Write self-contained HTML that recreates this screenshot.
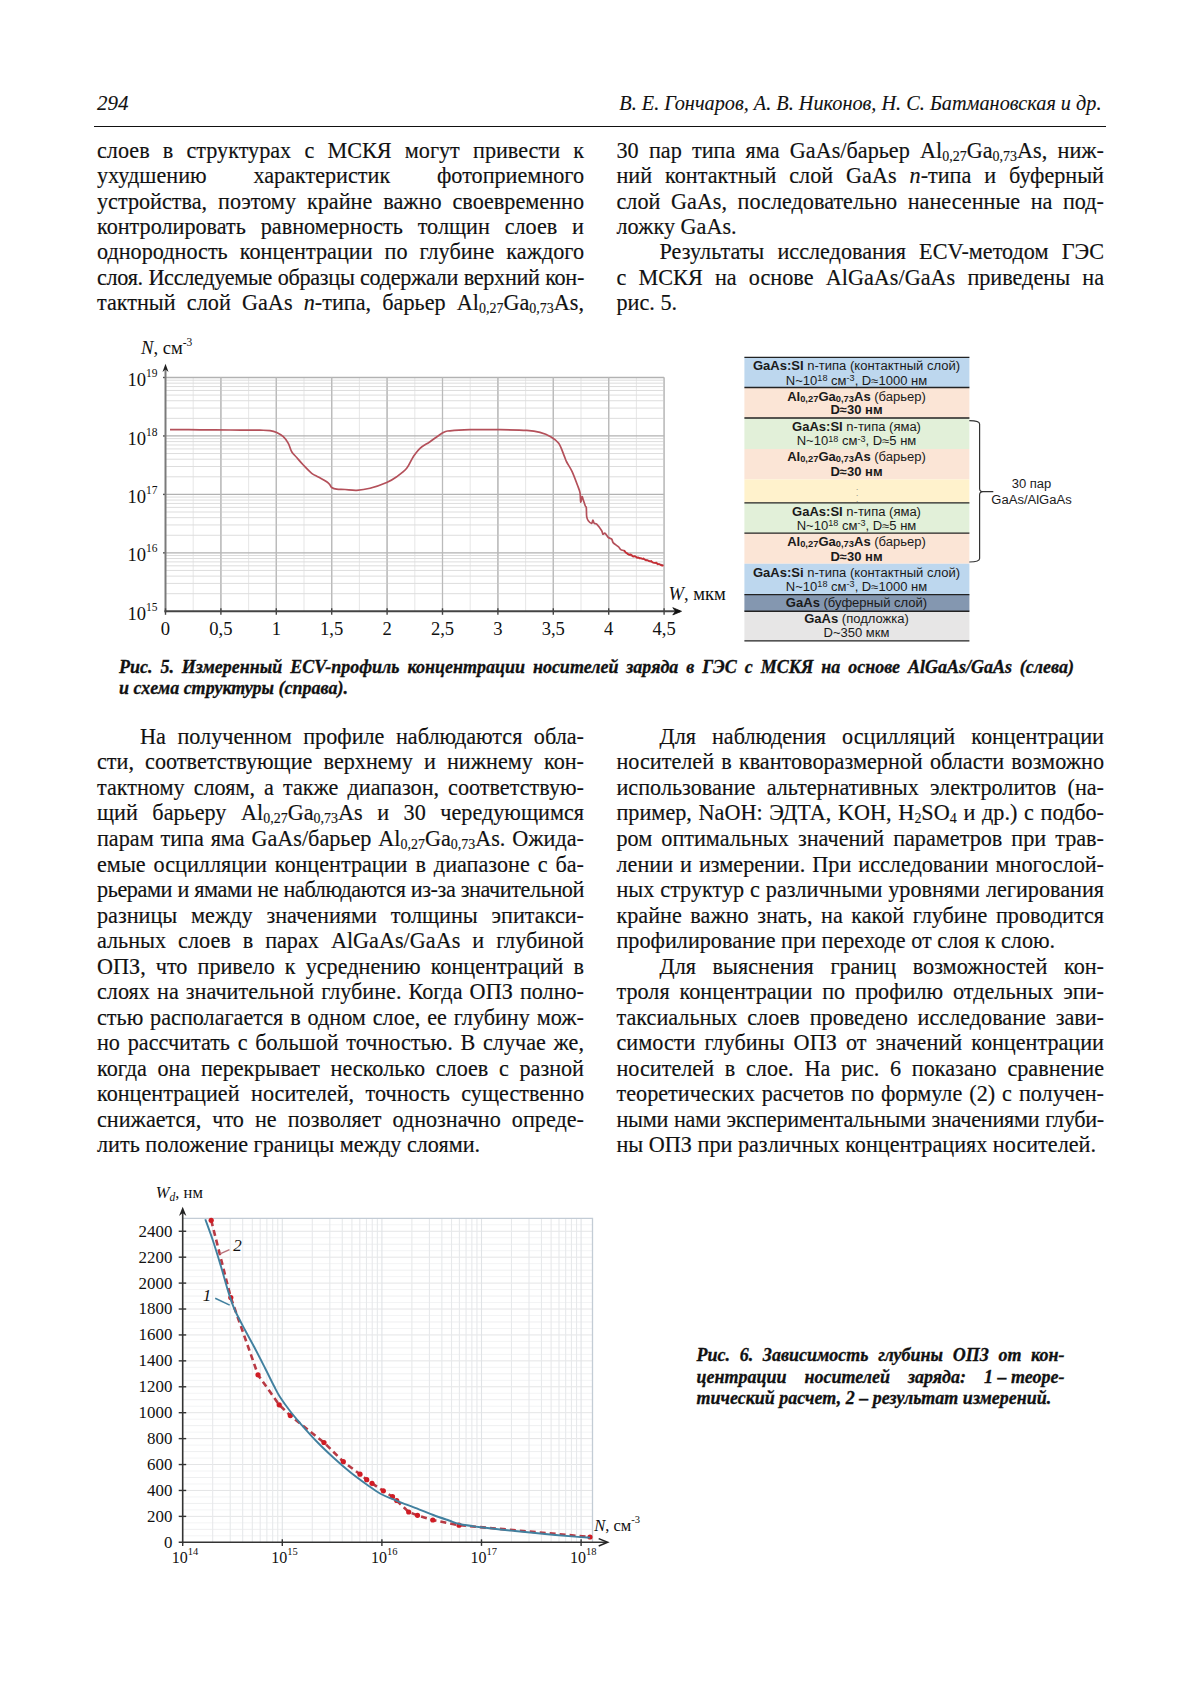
<!DOCTYPE html>
<html><head><meta charset="utf-8"><style>
*{margin:0;padding:0;box-sizing:border-box}
html,body{width:1200px;height:1697px;background:#fff;overflow:hidden}
body{position:relative;font-family:"Liberation Serif",serif;color:#111}
.tx{position:absolute;-webkit-text-stroke:0.15px #111;font-size:22.2px;line-height:25.45px;white-space:nowrap}
.tx>div,.cap>div{text-align:left;height:25.45px;overflow:visible}
.cap>div{height:auto}
.j{text-align:justify!important;text-align-last:justify}
.ind{padding-left:43px}
.sb{font-size:0.63em;position:relative;top:3px;line-height:0}
.cap{position:absolute;-webkit-text-stroke:0.3px #111;font-weight:bold;font-style:italic;white-space:nowrap}
.hd{position:absolute;-webkit-text-stroke:0.1px #111;font-style:italic;font-size:20.25px;line-height:1.15;white-space:nowrap}
.ov{position:absolute;left:0;top:0}
.c5{font-family:"Liberation Serif",serif;font-size:18.6px;fill:#111}
.sup5{font-size:11.5px}
.c6{font-family:"Liberation Serif",serif;font-size:16.5px;fill:#111}
.sup6{font-size:10.5px}
.sub6{font-size:11.5px}
.dl{position:absolute;left:744.4px;width:225px;text-align:center;font-family:"Liberation Sans",sans-serif;font-size:12px;line-height:12px;white-space:nowrap;color:#1a1a1a;transform:scaleX(1.085)}
.dl2{position:absolute;text-align:center;font-family:"Liberation Sans",sans-serif;font-size:12px;line-height:12px;white-space:nowrap;color:#1a1a1a;transform:scaleX(1.085)}
.sp{font-size:0.7em;position:relative;top:-0.45em;line-height:0}
.ds{font-size:0.72em;position:relative;top:0.15em;line-height:0}
</style></head>
<body>
<svg class="ov" width="1200" height="1697" viewBox="0 0 1200 1697"><line x1="193.20" y1="377.50" x2="193.20" y2="611.30" stroke="#e8e8e8" stroke-width="1.1"/>
<line x1="220.90" y1="377.50" x2="220.90" y2="611.30" stroke="#bcbcbc" stroke-width="1.1"/>
<line x1="248.60" y1="377.50" x2="248.60" y2="611.30" stroke="#e8e8e8" stroke-width="1.1"/>
<line x1="276.30" y1="377.50" x2="276.30" y2="611.30" stroke="#bcbcbc" stroke-width="1.1"/>
<line x1="304.00" y1="377.50" x2="304.00" y2="611.30" stroke="#e8e8e8" stroke-width="1.1"/>
<line x1="331.70" y1="377.50" x2="331.70" y2="611.30" stroke="#bcbcbc" stroke-width="1.1"/>
<line x1="359.40" y1="377.50" x2="359.40" y2="611.30" stroke="#e8e8e8" stroke-width="1.1"/>
<line x1="387.10" y1="377.50" x2="387.10" y2="611.30" stroke="#bcbcbc" stroke-width="1.1"/>
<line x1="414.80" y1="377.50" x2="414.80" y2="611.30" stroke="#e8e8e8" stroke-width="1.1"/>
<line x1="442.50" y1="377.50" x2="442.50" y2="611.30" stroke="#bcbcbc" stroke-width="1.1"/>
<line x1="470.20" y1="377.50" x2="470.20" y2="611.30" stroke="#e8e8e8" stroke-width="1.1"/>
<line x1="497.90" y1="377.50" x2="497.90" y2="611.30" stroke="#bcbcbc" stroke-width="1.1"/>
<line x1="525.60" y1="377.50" x2="525.60" y2="611.30" stroke="#e8e8e8" stroke-width="1.1"/>
<line x1="553.30" y1="377.50" x2="553.30" y2="611.30" stroke="#bcbcbc" stroke-width="1.1"/>
<line x1="581.00" y1="377.50" x2="581.00" y2="611.30" stroke="#e8e8e8" stroke-width="1.1"/>
<line x1="608.70" y1="377.50" x2="608.70" y2="611.30" stroke="#bcbcbc" stroke-width="1.1"/>
<line x1="636.40" y1="377.50" x2="636.40" y2="611.30" stroke="#e8e8e8" stroke-width="1.1"/>
<line x1="664.10" y1="377.50" x2="664.10" y2="611.30" stroke="#bcbcbc" stroke-width="1.1"/>
<line x1="165.50" y1="593.70" x2="664.10" y2="593.70" stroke="#dddddd" stroke-width="1"/>
<line x1="165.50" y1="583.41" x2="664.10" y2="583.41" stroke="#dddddd" stroke-width="1"/>
<line x1="165.50" y1="576.11" x2="664.10" y2="576.11" stroke="#dddddd" stroke-width="1"/>
<line x1="165.50" y1="570.45" x2="664.10" y2="570.45" stroke="#dddddd" stroke-width="1"/>
<line x1="165.50" y1="565.82" x2="664.10" y2="565.82" stroke="#dddddd" stroke-width="1"/>
<line x1="165.50" y1="561.90" x2="664.10" y2="561.90" stroke="#dddddd" stroke-width="1"/>
<line x1="165.50" y1="558.51" x2="664.10" y2="558.51" stroke="#dddddd" stroke-width="1"/>
<line x1="165.50" y1="555.52" x2="664.10" y2="555.52" stroke="#dddddd" stroke-width="1"/>
<line x1="165.50" y1="535.25" x2="664.10" y2="535.25" stroke="#dddddd" stroke-width="1"/>
<line x1="165.50" y1="524.96" x2="664.10" y2="524.96" stroke="#dddddd" stroke-width="1"/>
<line x1="165.50" y1="517.66" x2="664.10" y2="517.66" stroke="#dddddd" stroke-width="1"/>
<line x1="165.50" y1="512.00" x2="664.10" y2="512.00" stroke="#dddddd" stroke-width="1"/>
<line x1="165.50" y1="507.37" x2="664.10" y2="507.37" stroke="#dddddd" stroke-width="1"/>
<line x1="165.50" y1="503.45" x2="664.10" y2="503.45" stroke="#dddddd" stroke-width="1"/>
<line x1="165.50" y1="500.06" x2="664.10" y2="500.06" stroke="#dddddd" stroke-width="1"/>
<line x1="165.50" y1="497.07" x2="664.10" y2="497.07" stroke="#dddddd" stroke-width="1"/>
<line x1="165.50" y1="476.80" x2="664.10" y2="476.80" stroke="#dddddd" stroke-width="1"/>
<line x1="165.50" y1="466.51" x2="664.10" y2="466.51" stroke="#dddddd" stroke-width="1"/>
<line x1="165.50" y1="459.21" x2="664.10" y2="459.21" stroke="#dddddd" stroke-width="1"/>
<line x1="165.50" y1="453.55" x2="664.10" y2="453.55" stroke="#dddddd" stroke-width="1"/>
<line x1="165.50" y1="448.92" x2="664.10" y2="448.92" stroke="#dddddd" stroke-width="1"/>
<line x1="165.50" y1="445.00" x2="664.10" y2="445.00" stroke="#dddddd" stroke-width="1"/>
<line x1="165.50" y1="441.61" x2="664.10" y2="441.61" stroke="#dddddd" stroke-width="1"/>
<line x1="165.50" y1="438.62" x2="664.10" y2="438.62" stroke="#dddddd" stroke-width="1"/>
<line x1="165.50" y1="418.35" x2="664.10" y2="418.35" stroke="#dddddd" stroke-width="1"/>
<line x1="165.50" y1="408.06" x2="664.10" y2="408.06" stroke="#dddddd" stroke-width="1"/>
<line x1="165.50" y1="400.76" x2="664.10" y2="400.76" stroke="#dddddd" stroke-width="1"/>
<line x1="165.50" y1="395.10" x2="664.10" y2="395.10" stroke="#dddddd" stroke-width="1"/>
<line x1="165.50" y1="390.47" x2="664.10" y2="390.47" stroke="#dddddd" stroke-width="1"/>
<line x1="165.50" y1="386.55" x2="664.10" y2="386.55" stroke="#dddddd" stroke-width="1"/>
<line x1="165.50" y1="383.16" x2="664.10" y2="383.16" stroke="#dddddd" stroke-width="1"/>
<line x1="165.50" y1="380.17" x2="664.10" y2="380.17" stroke="#dddddd" stroke-width="1"/>
<line x1="165.50" y1="552.85" x2="664.10" y2="552.85" stroke="#b2b2b2" stroke-width="1.3"/>
<line x1="163.00" y1="552.85" x2="165.50" y2="552.85" stroke="#555" stroke-width="1.4"/>
<line x1="165.50" y1="494.40" x2="664.10" y2="494.40" stroke="#b2b2b2" stroke-width="1.3"/>
<line x1="163.00" y1="494.40" x2="165.50" y2="494.40" stroke="#555" stroke-width="1.4"/>
<line x1="165.50" y1="435.95" x2="664.10" y2="435.95" stroke="#b2b2b2" stroke-width="1.3"/>
<line x1="163.00" y1="435.95" x2="165.50" y2="435.95" stroke="#555" stroke-width="1.4"/>
<line x1="165.50" y1="377.50" x2="664.10" y2="377.50" stroke="#b2b2b2" stroke-width="1.3"/>
<line x1="163.00" y1="377.50" x2="165.50" y2="377.50" stroke="#555" stroke-width="1.4"/>
<line x1="220.90" y1="377.50" x2="220.90" y2="611.30" stroke="#bababa" stroke-width="1.2"/>
<line x1="276.30" y1="377.50" x2="276.30" y2="611.30" stroke="#bababa" stroke-width="1.2"/>
<line x1="331.70" y1="377.50" x2="331.70" y2="611.30" stroke="#bababa" stroke-width="1.2"/>
<line x1="387.10" y1="377.50" x2="387.10" y2="611.30" stroke="#bababa" stroke-width="1.2"/>
<line x1="442.50" y1="377.50" x2="442.50" y2="611.30" stroke="#bababa" stroke-width="1.2"/>
<line x1="497.90" y1="377.50" x2="497.90" y2="611.30" stroke="#bababa" stroke-width="1.2"/>
<line x1="553.30" y1="377.50" x2="553.30" y2="611.30" stroke="#bababa" stroke-width="1.2"/>
<line x1="608.70" y1="377.50" x2="608.70" y2="611.30" stroke="#bababa" stroke-width="1.2"/>
<line x1="664.10" y1="377.50" x2="664.10" y2="611.30" stroke="#bababa" stroke-width="1.2"/>
<line x1="165.50" y1="612.30" x2="165.50" y2="368" stroke="#7a7a7a" stroke-width="2"/>
<path d="M162.50,372 L165.50,363.8 L168.50,372 L165.50,369.5 Z" fill="#222"/>
<line x1="164.50" y1="611.30" x2="680" y2="611.30" stroke="#444" stroke-width="2"/>
<path d="M672.8,607.70 L681.5,611.30 L672.8,614.90 L675.5,611.30 Z" fill="#111" stroke="#111" stroke-width="0.8" stroke-linejoin="round"/>
<line x1="165.50" y1="608.30" x2="165.50" y2="614.80" stroke="#444" stroke-width="1.4"/>
<line x1="220.90" y1="608.30" x2="220.90" y2="614.80" stroke="#444" stroke-width="1.4"/>
<line x1="276.30" y1="608.30" x2="276.30" y2="614.80" stroke="#444" stroke-width="1.4"/>
<line x1="331.70" y1="608.30" x2="331.70" y2="614.80" stroke="#444" stroke-width="1.4"/>
<line x1="387.10" y1="608.30" x2="387.10" y2="614.80" stroke="#444" stroke-width="1.4"/>
<line x1="442.50" y1="608.30" x2="442.50" y2="614.80" stroke="#444" stroke-width="1.4"/>
<line x1="497.90" y1="608.30" x2="497.90" y2="614.80" stroke="#444" stroke-width="1.4"/>
<line x1="553.30" y1="608.30" x2="553.30" y2="614.80" stroke="#444" stroke-width="1.4"/>
<line x1="608.70" y1="608.30" x2="608.70" y2="614.80" stroke="#444" stroke-width="1.4"/>
<line x1="664.10" y1="608.30" x2="664.10" y2="614.80" stroke="#444" stroke-width="1.4"/>
<text x="165.50" y="635.3" class="c5" text-anchor="middle">0</text>
<text x="220.90" y="635.3" class="c5" text-anchor="middle">0,5</text>
<text x="276.30" y="635.3" class="c5" text-anchor="middle">1</text>
<text x="331.70" y="635.3" class="c5" text-anchor="middle">1,5</text>
<text x="387.10" y="635.3" class="c5" text-anchor="middle">2</text>
<text x="442.50" y="635.3" class="c5" text-anchor="middle">2,5</text>
<text x="497.90" y="635.3" class="c5" text-anchor="middle">3</text>
<text x="553.30" y="635.3" class="c5" text-anchor="middle">3,5</text>
<text x="608.70" y="635.3" class="c5" text-anchor="middle">4</text>
<text x="664.10" y="635.3" class="c5" text-anchor="middle">4,5</text>
<text x="157.5" y="619.90" class="c5" text-anchor="end">10<tspan class="sup5" dy="-9">15</tspan></text>
<text x="157.5" y="561.45" class="c5" text-anchor="end">10<tspan class="sup5" dy="-9">16</tspan></text>
<text x="157.5" y="503.00" class="c5" text-anchor="end">10<tspan class="sup5" dy="-9">17</tspan></text>
<text x="157.5" y="444.55" class="c5" text-anchor="end">10<tspan class="sup5" dy="-9">18</tspan></text>
<text x="157.5" y="386.10" class="c5" text-anchor="end">10<tspan class="sup5" dy="-9">19</tspan></text>
<text x="141" y="353.8" class="c5"><tspan font-style="italic">N</tspan>, см<tspan class="sup5" dy="-8">-3</tspan></text>
<text x="668.5" y="600" class="c5"><tspan font-style="italic">W</tspan>, мкм</text>
<path d="M170.00,429.60 C175.00,429.63 190.00,429.73 200.00,429.80 C210.00,429.87 220.00,429.93 230.00,430.00 C240.00,430.07 253.33,430.10 260.00,430.20 C266.67,430.30 267.22,430.22 270.00,430.60 C272.78,430.98 274.48,431.48 276.70,432.50 C278.92,433.52 281.37,434.90 283.30,436.70 C285.23,438.50 286.90,440.80 288.30,443.30 C289.70,445.80 290.30,449.33 291.70,451.70 C293.10,454.07 294.77,455.28 296.70,457.50 C298.63,459.72 300.80,462.37 303.30,465.00 C305.80,467.63 309.20,471.30 311.70,473.30 C314.20,475.30 315.80,475.60 318.30,477.00 C320.80,478.40 324.75,480.37 326.70,481.70 C328.65,483.03 329.17,484.03 330.00,485.00 C330.83,485.97 330.58,486.80 331.70,487.50 C332.82,488.20 334.48,488.87 336.70,489.20 C338.92,489.53 341.67,489.32 345.00,489.50 C348.33,489.68 352.53,490.50 356.70,490.30 C360.87,490.10 365.00,489.60 370.00,488.30 C375.00,487.00 382.25,484.43 386.70,482.50 C391.15,480.57 393.37,479.07 396.70,476.70 C400.03,474.33 403.93,471.63 406.70,468.30 C409.47,464.97 411.08,460.03 413.30,456.70 C415.52,453.37 417.22,450.80 420.00,448.30 C422.78,445.80 426.12,444.33 430.00,441.70 C433.88,439.07 439.97,434.32 443.30,432.50 C446.63,430.68 445.55,431.27 450.00,430.80 C454.45,430.33 461.67,429.88 470.00,429.70 C478.33,429.52 490.55,429.58 500.00,429.70 C509.45,429.82 520.03,429.95 526.70,430.40 C533.37,430.85 536.00,431.35 540.00,432.40 C544.00,433.45 547.58,434.88 550.70,436.70 C553.82,438.52 556.48,440.20 558.70,443.30 C560.92,446.40 562.67,452.18 564.00,455.30 C565.33,458.42 565.37,459.33 566.70,462.00 C568.03,464.67 570.23,467.52 572.00,471.30 C573.77,475.08 575.97,481.13 577.30,484.70 C578.63,488.27 579.43,489.82 580.00,492.70 C580.57,495.58 580.37,501.33 580.70,502.00 C581.03,502.67 581.57,497.03 582.00,496.70 C582.43,496.37 582.75,498.45 583.30,500.00 C583.85,501.55 584.80,504.75 585.30,506.00 C585.80,507.25 586.07,505.72 586.30,507.50 C586.53,509.28 586.37,514.48 586.70,516.70 C587.03,518.92 587.47,519.70 588.30,520.80 C589.13,521.90 590.93,523.43 591.70,523.30 C592.47,523.17 592.48,520.00 592.90,520.00 C593.32,520.00 593.57,522.60 594.20,523.30 C594.83,524.00 595.45,522.95 596.70,524.20 C597.95,525.45 600.67,529.13 601.70,530.80 C602.73,532.47 602.35,533.78 602.90,534.20 C603.45,534.62 604.10,532.75 605.00,533.30 C605.90,533.85 607.18,536.52 608.30,537.50 C609.42,538.48 610.87,538.30 611.70,539.20 C612.53,540.10 612.20,541.65 613.30,542.90 C614.40,544.15 617.05,545.58 618.30,546.70 C619.55,547.82 619.82,548.92 620.80,549.60 C621.78,550.28 623.22,550.18 624.20,550.80 C625.18,551.42 625.45,552.47 626.70,553.30 C627.95,554.13 629.77,555.10 631.70,555.80 C633.63,556.50 635.80,556.80 638.30,557.50 C640.80,558.20 643.92,559.08 646.70,560.00 C649.48,560.92 652.23,562.10 655.00,563.00 C657.77,563.90 661.92,565.00 663.30,565.40" fill="none" stroke="#b4505a" stroke-width="1.7" stroke-linejoin="round"/>
<path d="M624.0,550.2 L625.3,552.0 L626.6,552.9 L627.9,554.1 L629.2,554.8 L630.5,554.3 L631.8,554.9 L633.1,556.8 L634.4,556.0 L635.7,556.3 L637.0,558.2 L638.3,557.4 L639.6,558.6 L640.9,558.2 L642.2,558.9 L643.5,558.3 L644.8,559.7 L646.1,560.6 L647.4,560.3 L648.7,561.2 L650.0,561.5 L651.3,560.8 L652.6,562.6 L653.9,562.8 L655.2,562.7 L656.5,562.5 L657.8,564.5 L659.1,564.1 L660.4,565.0 L661.7,565.7 L663.0,565.7 L663.5,565.4" fill="none" stroke="#c8282e" stroke-width="1.5" stroke-linejoin="round" opacity="0.9"/>
<line x1="182.70" y1="1535.82" x2="592.5" y2="1535.82" stroke="#f3f4f5" stroke-width="1"/>
<line x1="182.70" y1="1529.34" x2="592.5" y2="1529.34" stroke="#eeeff0" stroke-width="1"/>
<line x1="182.70" y1="1522.86" x2="592.5" y2="1522.86" stroke="#f3f4f5" stroke-width="1"/>
<line x1="182.70" y1="1516.38" x2="592.5" y2="1516.38" stroke="#e4e5e6" stroke-width="1"/>
<line x1="182.70" y1="1509.90" x2="592.5" y2="1509.90" stroke="#f3f4f5" stroke-width="1"/>
<line x1="182.70" y1="1503.42" x2="592.5" y2="1503.42" stroke="#eeeff0" stroke-width="1"/>
<line x1="182.70" y1="1496.94" x2="592.5" y2="1496.94" stroke="#f3f4f5" stroke-width="1"/>
<line x1="182.70" y1="1490.46" x2="592.5" y2="1490.46" stroke="#e4e5e6" stroke-width="1"/>
<line x1="182.70" y1="1483.98" x2="592.5" y2="1483.98" stroke="#f3f4f5" stroke-width="1"/>
<line x1="182.70" y1="1477.50" x2="592.5" y2="1477.50" stroke="#eeeff0" stroke-width="1"/>
<line x1="182.70" y1="1471.02" x2="592.5" y2="1471.02" stroke="#f3f4f5" stroke-width="1"/>
<line x1="182.70" y1="1464.54" x2="592.5" y2="1464.54" stroke="#e4e5e6" stroke-width="1"/>
<line x1="182.70" y1="1458.06" x2="592.5" y2="1458.06" stroke="#f3f4f5" stroke-width="1"/>
<line x1="182.70" y1="1451.58" x2="592.5" y2="1451.58" stroke="#eeeff0" stroke-width="1"/>
<line x1="182.70" y1="1445.10" x2="592.5" y2="1445.10" stroke="#f3f4f5" stroke-width="1"/>
<line x1="182.70" y1="1438.62" x2="592.5" y2="1438.62" stroke="#e4e5e6" stroke-width="1"/>
<line x1="182.70" y1="1432.14" x2="592.5" y2="1432.14" stroke="#f3f4f5" stroke-width="1"/>
<line x1="182.70" y1="1425.66" x2="592.5" y2="1425.66" stroke="#eeeff0" stroke-width="1"/>
<line x1="182.70" y1="1419.18" x2="592.5" y2="1419.18" stroke="#f3f4f5" stroke-width="1"/>
<line x1="182.70" y1="1412.70" x2="592.5" y2="1412.70" stroke="#e4e5e6" stroke-width="1"/>
<line x1="182.70" y1="1406.22" x2="592.5" y2="1406.22" stroke="#f3f4f5" stroke-width="1"/>
<line x1="182.70" y1="1399.74" x2="592.5" y2="1399.74" stroke="#eeeff0" stroke-width="1"/>
<line x1="182.70" y1="1393.26" x2="592.5" y2="1393.26" stroke="#f3f4f5" stroke-width="1"/>
<line x1="182.70" y1="1386.78" x2="592.5" y2="1386.78" stroke="#e4e5e6" stroke-width="1"/>
<line x1="182.70" y1="1380.30" x2="592.5" y2="1380.30" stroke="#f3f4f5" stroke-width="1"/>
<line x1="182.70" y1="1373.82" x2="592.5" y2="1373.82" stroke="#eeeff0" stroke-width="1"/>
<line x1="182.70" y1="1367.34" x2="592.5" y2="1367.34" stroke="#f3f4f5" stroke-width="1"/>
<line x1="182.70" y1="1360.86" x2="592.5" y2="1360.86" stroke="#e4e5e6" stroke-width="1"/>
<line x1="182.70" y1="1354.38" x2="592.5" y2="1354.38" stroke="#f3f4f5" stroke-width="1"/>
<line x1="182.70" y1="1347.90" x2="592.5" y2="1347.90" stroke="#eeeff0" stroke-width="1"/>
<line x1="182.70" y1="1341.42" x2="592.5" y2="1341.42" stroke="#f3f4f5" stroke-width="1"/>
<line x1="182.70" y1="1334.94" x2="592.5" y2="1334.94" stroke="#e4e5e6" stroke-width="1"/>
<line x1="182.70" y1="1328.46" x2="592.5" y2="1328.46" stroke="#f3f4f5" stroke-width="1"/>
<line x1="182.70" y1="1321.98" x2="592.5" y2="1321.98" stroke="#eeeff0" stroke-width="1"/>
<line x1="182.70" y1="1315.50" x2="592.5" y2="1315.50" stroke="#f3f4f5" stroke-width="1"/>
<line x1="182.70" y1="1309.02" x2="592.5" y2="1309.02" stroke="#e4e5e6" stroke-width="1"/>
<line x1="182.70" y1="1302.54" x2="592.5" y2="1302.54" stroke="#f3f4f5" stroke-width="1"/>
<line x1="182.70" y1="1296.06" x2="592.5" y2="1296.06" stroke="#eeeff0" stroke-width="1"/>
<line x1="182.70" y1="1289.58" x2="592.5" y2="1289.58" stroke="#f3f4f5" stroke-width="1"/>
<line x1="182.70" y1="1283.10" x2="592.5" y2="1283.10" stroke="#e4e5e6" stroke-width="1"/>
<line x1="182.70" y1="1276.62" x2="592.5" y2="1276.62" stroke="#f3f4f5" stroke-width="1"/>
<line x1="182.70" y1="1270.14" x2="592.5" y2="1270.14" stroke="#eeeff0" stroke-width="1"/>
<line x1="182.70" y1="1263.66" x2="592.5" y2="1263.66" stroke="#f3f4f5" stroke-width="1"/>
<line x1="182.70" y1="1257.18" x2="592.5" y2="1257.18" stroke="#e4e5e6" stroke-width="1"/>
<line x1="182.70" y1="1250.70" x2="592.5" y2="1250.70" stroke="#f3f4f5" stroke-width="1"/>
<line x1="182.70" y1="1244.22" x2="592.5" y2="1244.22" stroke="#eeeff0" stroke-width="1"/>
<line x1="182.70" y1="1237.74" x2="592.5" y2="1237.74" stroke="#f3f4f5" stroke-width="1"/>
<line x1="182.70" y1="1231.26" x2="592.5" y2="1231.26" stroke="#e4e5e6" stroke-width="1"/>
<line x1="182.70" y1="1224.78" x2="592.5" y2="1224.78" stroke="#f3f4f5" stroke-width="1"/>
<line x1="212.68" y1="1218.30" x2="212.68" y2="1542.30" stroke="#e7e9eb" stroke-width="1.1"/>
<line x1="230.22" y1="1218.30" x2="230.22" y2="1542.30" stroke="#e7e9eb" stroke-width="1.1"/>
<line x1="242.67" y1="1218.30" x2="242.67" y2="1542.30" stroke="#e7e9eb" stroke-width="1.1"/>
<line x1="252.32" y1="1218.30" x2="252.32" y2="1542.30" stroke="#e7e9eb" stroke-width="1.1"/>
<line x1="260.20" y1="1218.30" x2="260.20" y2="1542.30" stroke="#e7e9eb" stroke-width="1.1"/>
<line x1="266.87" y1="1218.30" x2="266.87" y2="1542.30" stroke="#e7e9eb" stroke-width="1.1"/>
<line x1="272.65" y1="1218.30" x2="272.65" y2="1542.30" stroke="#e7e9eb" stroke-width="1.1"/>
<line x1="277.74" y1="1218.30" x2="277.74" y2="1542.30" stroke="#e7e9eb" stroke-width="1.1"/>
<line x1="282.30" y1="1218.30" x2="282.30" y2="1542.30" stroke="#e0e3e6" stroke-width="1.1"/>
<line x1="312.28" y1="1218.30" x2="312.28" y2="1542.30" stroke="#e7e9eb" stroke-width="1.1"/>
<line x1="329.82" y1="1218.30" x2="329.82" y2="1542.30" stroke="#e7e9eb" stroke-width="1.1"/>
<line x1="342.27" y1="1218.30" x2="342.27" y2="1542.30" stroke="#e7e9eb" stroke-width="1.1"/>
<line x1="351.92" y1="1218.30" x2="351.92" y2="1542.30" stroke="#e7e9eb" stroke-width="1.1"/>
<line x1="359.80" y1="1218.30" x2="359.80" y2="1542.30" stroke="#e7e9eb" stroke-width="1.1"/>
<line x1="366.47" y1="1218.30" x2="366.47" y2="1542.30" stroke="#e7e9eb" stroke-width="1.1"/>
<line x1="372.25" y1="1218.30" x2="372.25" y2="1542.30" stroke="#e7e9eb" stroke-width="1.1"/>
<line x1="377.34" y1="1218.30" x2="377.34" y2="1542.30" stroke="#e7e9eb" stroke-width="1.1"/>
<line x1="381.90" y1="1218.30" x2="381.90" y2="1542.30" stroke="#e0e3e6" stroke-width="1.1"/>
<line x1="411.88" y1="1218.30" x2="411.88" y2="1542.30" stroke="#e7e9eb" stroke-width="1.1"/>
<line x1="429.42" y1="1218.30" x2="429.42" y2="1542.30" stroke="#e7e9eb" stroke-width="1.1"/>
<line x1="441.87" y1="1218.30" x2="441.87" y2="1542.30" stroke="#e7e9eb" stroke-width="1.1"/>
<line x1="451.52" y1="1218.30" x2="451.52" y2="1542.30" stroke="#e7e9eb" stroke-width="1.1"/>
<line x1="459.40" y1="1218.30" x2="459.40" y2="1542.30" stroke="#e7e9eb" stroke-width="1.1"/>
<line x1="466.07" y1="1218.30" x2="466.07" y2="1542.30" stroke="#e7e9eb" stroke-width="1.1"/>
<line x1="471.85" y1="1218.30" x2="471.85" y2="1542.30" stroke="#e7e9eb" stroke-width="1.1"/>
<line x1="476.94" y1="1218.30" x2="476.94" y2="1542.30" stroke="#e7e9eb" stroke-width="1.1"/>
<line x1="481.50" y1="1218.30" x2="481.50" y2="1542.30" stroke="#e0e3e6" stroke-width="1.1"/>
<line x1="511.48" y1="1218.30" x2="511.48" y2="1542.30" stroke="#e7e9eb" stroke-width="1.1"/>
<line x1="529.02" y1="1218.30" x2="529.02" y2="1542.30" stroke="#e7e9eb" stroke-width="1.1"/>
<line x1="541.47" y1="1218.30" x2="541.47" y2="1542.30" stroke="#e7e9eb" stroke-width="1.1"/>
<line x1="551.12" y1="1218.30" x2="551.12" y2="1542.30" stroke="#e7e9eb" stroke-width="1.1"/>
<line x1="559.00" y1="1218.30" x2="559.00" y2="1542.30" stroke="#e7e9eb" stroke-width="1.1"/>
<line x1="565.67" y1="1218.30" x2="565.67" y2="1542.30" stroke="#e7e9eb" stroke-width="1.1"/>
<line x1="571.45" y1="1218.30" x2="571.45" y2="1542.30" stroke="#e7e9eb" stroke-width="1.1"/>
<line x1="576.54" y1="1218.30" x2="576.54" y2="1542.30" stroke="#e7e9eb" stroke-width="1.1"/>
<line x1="581.10" y1="1218.30" x2="581.10" y2="1542.30" stroke="#e0e3e6" stroke-width="1.1"/>
<path d="M182.70,1218.30 L592.5,1218.30 L592.5,1542.30" fill="none" stroke="#c3ccd5" stroke-width="1.3"/>
<line x1="182.70" y1="1543.30" x2="182.70" y2="1212" stroke="#333" stroke-width="1.6"/>
<path d="M179.00,1216 L182.70,1206.7 L186.40,1216 L182.70,1213 Z" fill="#222"/>
<line x1="178.70" y1="1542.30" x2="606" y2="1542.30" stroke="#333" stroke-width="1.6"/>
<line x1="182.70" y1="1542.30" x2="182.70" y2="1545.90" stroke="#333" stroke-width="1.4"/>
<path d="M598.7,1538.60 L607.7,1542.30 L598.7,1546.00" fill="none" stroke="#222" stroke-width="1.5"/>
<line x1="178.70" y1="1516.38" x2="186.20" y2="1516.38" stroke="#333" stroke-width="1.4"/>
<line x1="178.70" y1="1490.46" x2="186.20" y2="1490.46" stroke="#333" stroke-width="1.4"/>
<line x1="178.70" y1="1464.54" x2="186.20" y2="1464.54" stroke="#333" stroke-width="1.4"/>
<line x1="178.70" y1="1438.62" x2="186.20" y2="1438.62" stroke="#333" stroke-width="1.4"/>
<line x1="178.70" y1="1412.70" x2="186.20" y2="1412.70" stroke="#333" stroke-width="1.4"/>
<line x1="178.70" y1="1386.78" x2="186.20" y2="1386.78" stroke="#333" stroke-width="1.4"/>
<line x1="178.70" y1="1360.86" x2="186.20" y2="1360.86" stroke="#333" stroke-width="1.4"/>
<line x1="178.70" y1="1334.94" x2="186.20" y2="1334.94" stroke="#333" stroke-width="1.4"/>
<line x1="178.70" y1="1309.02" x2="186.20" y2="1309.02" stroke="#333" stroke-width="1.4"/>
<line x1="178.70" y1="1283.10" x2="186.20" y2="1283.10" stroke="#333" stroke-width="1.4"/>
<line x1="178.70" y1="1257.18" x2="186.20" y2="1257.18" stroke="#333" stroke-width="1.4"/>
<line x1="178.70" y1="1231.26" x2="186.20" y2="1231.26" stroke="#333" stroke-width="1.4"/>
<line x1="282.30" y1="1539.30" x2="282.30" y2="1545.90" stroke="#333" stroke-width="1.4"/>
<line x1="381.90" y1="1539.30" x2="381.90" y2="1545.90" stroke="#333" stroke-width="1.4"/>
<line x1="481.50" y1="1539.30" x2="481.50" y2="1545.90" stroke="#333" stroke-width="1.4"/>
<line x1="581.10" y1="1539.30" x2="581.10" y2="1545.90" stroke="#333" stroke-width="1.4"/>
<text x="172.4" y="1547.70" class="c6" text-anchor="end" style="font-size:16.9px">0</text>
<text x="172.4" y="1521.78" class="c6" text-anchor="end" style="font-size:16.9px">200</text>
<text x="172.4" y="1495.86" class="c6" text-anchor="end" style="font-size:16.9px">400</text>
<text x="172.4" y="1469.94" class="c6" text-anchor="end" style="font-size:16.9px">600</text>
<text x="172.4" y="1444.02" class="c6" text-anchor="end" style="font-size:16.9px">800</text>
<text x="172.4" y="1418.10" class="c6" text-anchor="end" style="font-size:16.9px">1000</text>
<text x="172.4" y="1392.18" class="c6" text-anchor="end" style="font-size:16.9px">1200</text>
<text x="172.4" y="1366.26" class="c6" text-anchor="end" style="font-size:16.9px">1400</text>
<text x="172.4" y="1340.34" class="c6" text-anchor="end" style="font-size:16.9px">1600</text>
<text x="172.4" y="1314.42" class="c6" text-anchor="end" style="font-size:16.9px">1800</text>
<text x="172.4" y="1288.50" class="c6" text-anchor="end" style="font-size:16.9px">2000</text>
<text x="172.4" y="1262.58" class="c6" text-anchor="end" style="font-size:16.9px">2200</text>
<text x="172.4" y="1236.66" class="c6" text-anchor="end" style="font-size:16.9px">2400</text>
<text x="171.70" y="1562.6" class="c6" style="font-size:16px">10<tspan class="sup6" dy="-8">14</tspan></text>
<text x="271.30" y="1562.6" class="c6" style="font-size:16px">10<tspan class="sup6" dy="-8">15</tspan></text>
<text x="370.90" y="1562.6" class="c6" style="font-size:16px">10<tspan class="sup6" dy="-8">16</tspan></text>
<text x="470.50" y="1562.6" class="c6" style="font-size:16px">10<tspan class="sup6" dy="-8">17</tspan></text>
<text x="570.10" y="1562.6" class="c6" style="font-size:16px">10<tspan class="sup6" dy="-8">18</tspan></text>
<text x="155.8" y="1198" class="c6"><tspan font-style="italic">W</tspan><tspan font-style="italic" class="sub6" dy="3">d</tspan><tspan dy="-3">, нм</tspan></text>
<text x="594.2" y="1531.3" class="c6"><tspan font-style="italic">N</tspan>, см<tspan class="sup6" dy="-8">-3</tspan></text>
<path d="M211.2,1220.3 L230.8,1297.6 L258.0,1374.8 L279.2,1404.8 L290.3,1415.6 L324.0,1442.5 L343.3,1461.7 L360.0,1474.2 L366.7,1479.7 L372.0,1483.3 L383.3,1490.8 L392.5,1496.7 L396.7,1500.5 L408.7,1512.0 L417.5,1515.3 L432.8,1520.0 L459.0,1525.2 L590.0,1537.0" fill="none" stroke="#b83a44" stroke-width="2.6" stroke-dasharray="6 4"/>
<circle cx="211.2" cy="1220.3" r="2.6" fill="#d01c24"/>
<circle cx="230.8" cy="1297.6" r="2.6" fill="#d01c24"/>
<circle cx="258" cy="1374.8" r="2.6" fill="#d01c24"/>
<circle cx="279.2" cy="1404.8" r="2.6" fill="#d01c24"/>
<circle cx="290.3" cy="1415.6" r="2.6" fill="#d01c24"/>
<circle cx="324" cy="1442.5" r="2.6" fill="#d01c24"/>
<circle cx="343.3" cy="1461.7" r="2.6" fill="#d01c24"/>
<circle cx="360" cy="1474.2" r="2.6" fill="#d01c24"/>
<circle cx="366.7" cy="1479.7" r="2.6" fill="#d01c24"/>
<circle cx="372" cy="1483.3" r="2.6" fill="#d01c24"/>
<circle cx="383.3" cy="1490.8" r="2.6" fill="#d01c24"/>
<circle cx="392.5" cy="1496.7" r="2.6" fill="#d01c24"/>
<circle cx="396.7" cy="1500.5" r="2.6" fill="#d01c24"/>
<circle cx="408.7" cy="1512" r="2.6" fill="#d01c24"/>
<circle cx="417.5" cy="1515.3" r="2.6" fill="#d01c24"/>
<circle cx="432.8" cy="1520" r="2.6" fill="#d01c24"/>
<circle cx="459" cy="1525.2" r="2.6" fill="#d01c24"/>
<circle cx="590" cy="1537" r="2.6" fill="#d01c24"/>
<path d="M205.30,1219.20 C206.63,1222.95 210.68,1233.82 213.30,1241.70 C215.92,1249.58 218.88,1259.45 221.00,1266.50 C223.12,1273.55 224.50,1278.92 226.00,1284.00 C227.50,1289.08 228.50,1292.58 230.00,1297.00 C231.50,1301.42 232.50,1305.00 235.00,1310.50 C237.50,1316.00 241.67,1323.67 245.00,1330.00 C248.33,1336.33 251.67,1342.17 255.00,1348.50 C258.33,1354.83 261.83,1361.75 265.00,1368.00 C268.17,1374.25 271.50,1381.17 274.00,1386.00 C276.50,1390.83 277.33,1392.83 280.00,1397.00 C282.67,1401.17 286.67,1406.67 290.00,1411.00 C293.33,1415.33 295.55,1417.92 300.00,1423.00 C304.45,1428.08 311.15,1435.75 316.70,1441.50 C322.25,1447.25 327.75,1452.42 333.30,1457.50 C338.85,1462.58 344.43,1467.50 350.00,1472.00 C355.57,1476.50 361.70,1480.92 366.70,1484.50 C371.70,1488.08 375.00,1490.78 380.00,1493.50 C385.00,1496.22 390.58,1498.33 396.70,1500.80 C402.82,1503.27 410.60,1505.93 416.70,1508.30 C422.80,1510.67 427.92,1512.97 433.30,1515.00 C438.68,1517.03 444.63,1519.00 449.00,1520.50 C453.37,1522.00 454.25,1522.88 459.50,1524.00 C464.75,1525.12 471.25,1526.03 480.50,1527.20 C489.75,1528.37 504.25,1529.87 515.00,1531.00 C525.75,1532.13 535.00,1533.07 545.00,1534.00 C555.00,1534.93 567.50,1536.00 575.00,1536.60 C582.50,1537.20 587.50,1537.43 590.00,1537.60" fill="none" stroke="#41809f" stroke-width="1.9" stroke-linejoin="round"/>
<line x1="220" y1="1253.9" x2="229.5" y2="1249.7" stroke="#b87078" stroke-width="1.3"/>
<line x1="215.2" y1="1298.2" x2="229.7" y2="1305.1" stroke="#41809f" stroke-width="1.6"/>
<text x="233.3" y="1250.7" class="c6" font-style="italic" style="font-size:17px">2</text>
<text x="202.8" y="1300.6" class="c6" font-style="italic" style="font-size:17px">1</text></svg>
<svg class="ov" width="1200" height="1697" viewBox="0 0 1200 1697"><rect x="744.4" y="357.3" width="225" height="30.20" fill="#bdd7ee"/>
<rect x="744.4" y="387.5" width="225" height="30.50" fill="#fbe5d6"/>
<rect x="744.4" y="418.0" width="225" height="31.00" fill="#e2f0d9"/>
<rect x="744.4" y="449.0" width="225" height="30.40" fill="#fbe5d6"/>
<rect x="744.4" y="479.4" width="225" height="23.50" fill="#fff2cc"/>
<rect x="744.4" y="502.9" width="225" height="30.20" fill="#e2f0d9"/>
<rect x="744.4" y="533.1" width="225" height="30.65" fill="#fbe5d6"/>
<rect x="744.4" y="563.75" width="225" height="30.85" fill="#bdd7ee"/>
<rect x="744.4" y="594.6" width="225" height="16.65" fill="#8497b0"/>
<rect x="744.4" y="611.25" width="225" height="29.55" fill="#e7e6e6"/>
<line x1="744.4" y1="357.3" x2="969.4" y2="357.3" stroke="#222" stroke-width="1.3"/>
<line x1="744.4" y1="387.5" x2="969.4" y2="387.5" stroke="#222" stroke-width="1.3"/>
<line x1="744.4" y1="418.0" x2="969.4" y2="418.0" stroke="#222" stroke-width="1.3"/>
<line x1="744.4" y1="502.9" x2="969.4" y2="502.9" stroke="#222" stroke-width="1.3"/>
<line x1="744.4" y1="533.1" x2="969.4" y2="533.1" stroke="#222" stroke-width="1.3"/>
<line x1="744.4" y1="594.6" x2="969.4" y2="594.6" stroke="#222" stroke-width="1.3"/>
<line x1="744.4" y1="611.25" x2="969.4" y2="611.25" stroke="#222" stroke-width="1.3"/>
<line x1="744.4" y1="640.8" x2="969.4" y2="640.8" stroke="#222" stroke-width="1.3"/>
<path d="M969.3,420.6 Q979.6,420.6 979.6,424 L979.6,488.5 Q979.6,491.7 983,491.7 L993.3,491.7 M983,491.7 Q979.6,491.7 979.6,495 L979.6,558.5 Q979.6,562 969.3,562" fill="none" stroke="#333" stroke-width="1.2"/>
<text x="857" y="490" text-anchor="middle" class="dgt" fill="#777" style="font-size:9px">.</text>
<text x="857" y="496" text-anchor="middle" class="dgt" fill="#777" style="font-size:9px">.</text>
<text x="857" y="502" text-anchor="middle" class="dgt" fill="#777" style="font-size:9px">.</text></svg>
<div class="dl" style="top:360.44px"><b>GaAs:SI</b> n-типа (контактный слой)</div><div class="dl" style="top:375.04px">N~10<span class="sp">18</span> см<span class="sp">-3</span>, D≈1000 нм</div><div class="dl" style="top:390.64px"><b>Al<span class="ds">0,27</span>Ga<span class="ds">0,73</span>As</b> (барьер)</div><div class="dl" style="top:404.14px"><b>D≈30 нм</b></div><div class="dl" style="top:421.24px"><b>GaAs:SI</b> n-типа (яма)</div><div class="dl" style="top:435.44px">N~10<span class="sp">18</span> см<span class="sp">-3</span>, D≈5 нм</div><div class="dl" style="top:451.04px"><b>Al<span class="ds">0,27</span>Ga<span class="ds">0,73</span>As</b> (барьер)</div><div class="dl" style="top:465.64px"><b>D≈30 нм</b></div><div class="dl" style="top:506.04px"><b>GaAs:SI</b> n-типа (яма)</div><div class="dl" style="top:520.04px">N~10<span class="sp">18</span> см<span class="sp">-3</span>, D≈5 нм</div><div class="dl" style="top:536.04px"><b>Al<span class="ds">0,27</span>Ga<span class="ds">0,73</span>As</b> (барьер)</div><div class="dl" style="top:550.64px"><b>D≈30 нм</b></div><div class="dl" style="top:566.89px"><b>GaAs:Si</b> n-типа (контактный слой)</div><div class="dl" style="top:581.04px">N~10<span class="sp">18</span> см<span class="sp">-3</span>, D≈1000 нм</div><div class="dl" style="top:597.34px"><b>GaAs</b> (буферный слой)</div><div class="dl" style="top:613.34px"><b>GaAs</b> (подложка)</div><div class="dl" style="top:627.34px">D~350 мкм</div><div class="dl2" style="left:991px;top:478.04px;width:81px">30 пар</div><div class="dl2" style="left:991px;top:494.34px;width:81px">GaAs/AlGaAs</div>
<div class="hd" style="left:97px;top:91.30px;font-size:21px">294</div>
<div class="hd" style="right:98.5px;top:92.02px">В. Е. Гончаров, А. В. Никонов, Н. С. Батмановская и др.</div>
<div style="position:absolute;left:94px;top:125.7px;width:1011.5px;height:1.4px;background:#111"></div>
<div class="tx" style="left:97.0px;top:137.80px;width:487.0px;line-height:25.42px">
<div class="j" style="height:25.42px;">слоев в структурах с МСКЯ могут привести к</div>
<div class="j" style="height:25.42px;">ухудшению характеристик фотоприемного</div>
<div class="j" style="height:25.42px;">устройства, поэтому крайне важно своевременно</div>
<div class="j" style="height:25.42px;">контролировать равномерность толщин слоев и</div>
<div class="j" style="height:25.42px;">однородность концентрации по глубине каждого</div>
<div class="j" style="height:25.42px;letter-spacing:-0.3px">слоя. Исследуемые образцы содержали верхний кон-</div>
<div class="j" style="height:25.42px;">тактный слой GaAs <i>n</i>-типа, барьер Al<span class="sb">0,27</span>Ga<span class="sb">0,73</span>As,</div>
</div>
<div class="tx" style="left:616.5px;top:137.80px;width:487.5px;line-height:25.42px">
<div class="j" style="height:25.42px;">30 пар типа яма GaAs/барьер Al<span class="sb">0,27</span>Ga<span class="sb">0,73</span>As, ниж-</div>
<div class="j" style="height:25.42px;">ний контактный слой GaAs <i>n</i>-типа и буферный</div>
<div class="j" style="height:25.42px;">слой GaAs, последовательно нанесенные на под-</div>
<div class="" style="height:25.42px;">ложку GaAs.</div>
<div class="ind j" style="height:25.42px;">Результаты исследования ECV-методом ГЭС</div>
<div class="j" style="height:25.42px;">с МСКЯ на основе AlGaAs/GaAs приведены на</div>
<div class="" style="height:25.42px;">рис. 5.</div>
</div>
<div class="tx" style="left:97.0px;top:723.95px;width:487.0px;line-height:25.52px">
<div class="ind j" style="height:25.52px;">На полученном профиле наблюдаются обла-</div>
<div class="j" style="height:25.52px;">сти, соответствующие верхнему и нижнему кон-</div>
<div class="j" style="height:25.52px;">тактному слоям, а также диапазон, соответствую-</div>
<div class="j" style="height:25.52px;">щий барьеру Al<span class="sb">0,27</span>Ga<span class="sb">0,73</span>As и 30 чередующимся</div>
<div class="j" style="height:25.52px;">парам типа яма GaAs/барьер Al<span class="sb">0,27</span>Ga<span class="sb">0,73</span>As. Ожида-</div>
<div class="j" style="height:25.52px;">емые осцилляции концентрации в диапазоне с ба-</div>
<div class="j" style="height:25.52px;letter-spacing:-0.41px">рьерами и ямами не наблюдаются из-за значительной</div>
<div class="j" style="height:25.52px;">разницы между значениями толщины эпитакси-</div>
<div class="j" style="height:25.52px;">альных слоев в парах AlGaAs/GaAs и глубиной</div>
<div class="j" style="height:25.52px;">ОПЗ, что привело к усреднению концентраций в</div>
<div class="j" style="height:25.52px;">слоях на значительной глубине. Когда ОПЗ полно-</div>
<div class="j" style="height:25.52px;">стью располагается в одном слое, ее глубину мож-</div>
<div class="j" style="height:25.52px;">но рассчитать с большой точностью. В случае же,</div>
<div class="j" style="height:25.52px;">когда она перекрывает несколько слоев с разной</div>
<div class="j" style="height:25.52px;">концентрацией носителей, точность существенно</div>
<div class="j" style="height:25.52px;">снижается, что не позволяет однозначно опреде-</div>
<div class="" style="height:25.52px;">лить положение границы между слоями.</div>
</div>
<div class="tx" style="left:616.5px;top:723.95px;width:487.5px;line-height:25.52px">
<div class="ind j" style="height:25.52px;">Для наблюдения осцилляций концентрации</div>
<div class="j" style="height:25.52px;">носителей в квантоворазмерной области возможно</div>
<div class="j" style="height:25.52px;">использование альтернативных электролитов (на-</div>
<div class="j" style="height:25.52px;">пример, NaOH: ЭДТА, KOH, H<span class="sb">2</span>SO<span class="sb">4</span> и др.) с подбо-</div>
<div class="j" style="height:25.52px;">ром оптимальных значений параметров при трав-</div>
<div class="j" style="height:25.52px;">лении и измерении. При исследовании многослой-</div>
<div class="j" style="height:25.52px;">ных структур с различными уровнями легирования</div>
<div class="j" style="height:25.52px;">крайне важно знать, на какой глубине проводится</div>
<div class="" style="height:25.52px;">профилирование при переходе от слоя к слою.</div>
<div class="ind j" style="height:25.52px;">Для выяснения границ возможностей кон-</div>
<div class="j" style="height:25.52px;">троля концентрации по профилю отдельных эпи-</div>
<div class="j" style="height:25.52px;">таксиальных слоев проведено исследование зави-</div>
<div class="j" style="height:25.52px;">симости глубины ОПЗ от значений концентрации</div>
<div class="j" style="height:25.52px;">носителей в слое. На рис. 6 показано сравнение</div>
<div class="j" style="height:25.52px;">теоретических расчетов по формуле (2) с получен-</div>
<div class="j" style="height:25.52px;letter-spacing:-0.26px">ными нами экспериментальными значениями глуби-</div>
<div class="" style="height:25.52px;">ны ОПЗ при различных концентрациях носителей.</div>
</div>
<div class="cap" style="left:119px;top:656.93px;width:955px;font-size:18.0px;line-height:21.2px">
<div class="j">Рис. 5. Измеренный ECV-профиль концентрации носителей заряда в ГЭС с МСКЯ на основе AlGaAs/GaAs (слева)</div>
<div>и схема структуры (справа).</div></div>
<div class="cap" style="left:696.5px;top:1345.33px;width:368px;font-size:18.0px;line-height:21.2px">
<div class="j">Рис. 6. Зависимость глубины ОПЗ от кон-</div>
<div class="j">центрации носителей заряда: <span style="display:inline-block">1 – теоре-</span></div>
<div>тический расчет, 2 – результат измерений.</div></div>
</body></html>
